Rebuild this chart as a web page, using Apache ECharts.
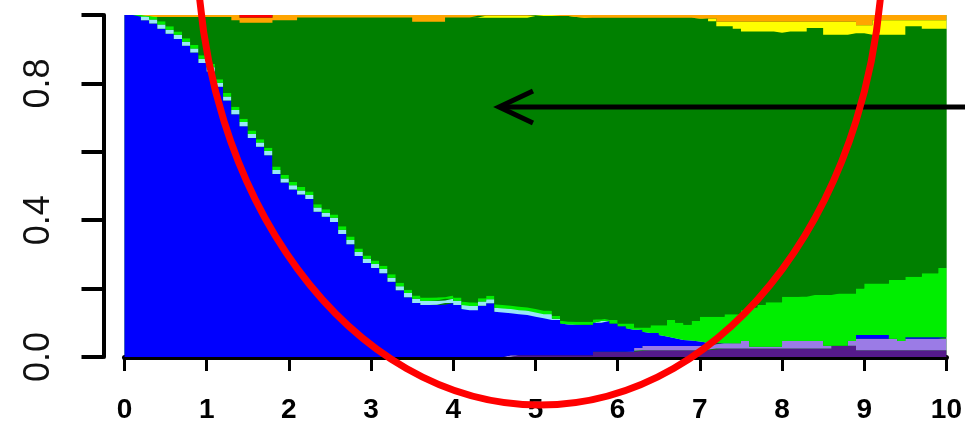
<!DOCTYPE html>
<html>
<head>
<meta charset="utf-8">
<script src="https://cdn.jsdelivr.net/npm/echarts@6/dist/echarts.min.js"></script>
<style>
html,body{margin:0;padding:0;background:#fff;}
#chart{width:965px;height:437px;}
</style>
</head>
<body>
<div id="chart"></div>
<script>
// x positions (time)
const xs = [0,0.1,0.2,0.3,0.4,0.5,0.6,0.7,0.8,0.9,1,1.1,1.2,1.3,1.4,1.5,1.6,1.7,1.8,1.9,2,2.1,2.2,2.3,2.4,2.5,2.6,2.7,2.8,2.9,3,3.1,3.2,3.3,3.4,3.5,3.6,3.7,3.8,3.9,4,4.1,4.2,4.3,4.4,4.5,4.6,4.7,4.8,4.9,5,5.1,5.2,5.3,5.4,5.5,5.6,5.7,5.8,5.9,6,6.1,6.2,6.3,6.4,6.5,6.6,6.7,6.8,6.9,7,7.1,7.2,7.3,7.4,7.5,7.6,7.7,7.8,7.9,8,8.1,8.2,8.3,8.4,8.5,8.6,8.7,8.8,8.9,9,9.1,9.2,9.3,9.4,9.5,9.6,9.7,9.8,9.9,10];

// layer proportions, bottom to top
const darkPurple = [0,0,0,0,0,0,0,0,0,0, 0,0,0,0,0,0,0,0,0,0, 0,0,0,0,0,0,0,0,0,0, 0,0,0,0,0,0,0,0,0,0, 0,0,0,0,0,0,0,0.005,0.005,0.005, 0.005,0.005,0.005,0.005,0.005,0.005,0.005,0.015,0.015,0.015, 0.015,0.015,0.018,0.02,0.02,0.02,0.02,0.02,0.02,0.02, 0.02,0.022,0.025,0.025,0.025,0.025,0.025,0.025,0.025,0.025, 0.025,0.025,0.025,0.025,0.025,0.025,0.033,0.033,0.033,0.02, 0.02,0.02,0.02,0.02,0.02,0.02,0.02,0.02,0.02,0.02, 0.02];
const lavender = [0,0,0,0,0,0,0,0,0,0, 0,0,0,0,0,0,0,0,0,0, 0,0,0,0,0,0,0,0,0,0, 0,0,0,0,0,0,0,0,0,0, 0,0,0,0,0,0,0,0,0,0, 0,0,0,0,0,0,0,0,0,0, 0,0,0.008,0.012,0.012,0.012,0.012,0.012,0.012,0.012, 0.012,0.015,0.015,0.015,0.015,0.022,0.005,0.005,0.005,0.005, 0.022,0.022,0.022,0.022,0.022,0.008,0,0,0.014,0.033, 0.033,0.033,0.033,0.033,0.027,0.033,0.033,0.033,0.033,0.033, 0.033];
const blue = [1,1,0.985,0.975,0.96,0.945,0.93,0.91,0.89,0.86, 0.835,0.79,0.75,0.71,0.675,0.64,0.615,0.59,0.535,0.51, 0.49,0.475,0.462,0.425,0.41,0.395,0.36,0.33,0.295,0.275, 0.26,0.245,0.22,0.195,0.175,0.158,0.152,0.152,0.153,0.158, 0.152,0.14,0.137,0.15,0.157,0.132,0.13,0.123,0.12,0.118, 0.113,0.108,0.103,0.093,0.09,0.089,0.089,0.085,0.09,0.083, 0.075,0.069,0.054,0.042,0.038,0.032,0.028,0.023,0.018,0.016, 0.013,0.005,0.002,0,0,0,0,0,0,0, 0,0,0,0,0,0,0,0,0,0.011, 0.011,0.011,0.011,0,0,0.005,0.005,0.005,0.005,0.005, 0.005];
const lightBlue = [0,0,0.01,0.012,0.012,0.012,0.012,0.012,0.012,0.012, 0.012,0.012,0.012,0.012,0.012,0.012,0.012,0.012,0.012,0.012, 0.012,0.012,0.012,0.012,0.012,0.012,0.012,0.012,0.012,0.012, 0.012,0.012,0.012,0.012,0.012,0.012,0.012,0.012,0.012,0.012, 0.012,0.012,0.012,0.012,0.012,0.012,0.012,0.012,0.012,0.012, 0.012,0.012,0.004,0,0,0,0,0,0,0, 0,0,0,0,0,0,0,0,0,0, 0,0,0,0,0,0,0,0,0,0, 0,0,0,0,0,0,0,0,0,0, 0,0,0,0,0,0,0,0,0,0, 0];
const lime = [0,0,0.005,0.01,0.01,0.01,0.01,0.01,0.01,0.01, 0.01,0.01,0.01,0.01,0.01,0.01,0.01,0.01,0.01,0.01, 0.01,0.01,0.01,0.01,0.01,0.01,0.01,0.01,0.01,0.01, 0.01,0.01,0.01,0.01,0.01,0.01,0.01,0.01,0.01,0.01, 0.01,0.01,0.01,0.01,0.01,0.01,0.01,0.01,0.01,0.01, 0.01,0.01,0.008,0.008,0.008,0.009,0.009,0.01,0.008,0.01, 0.008,0.014,0.006,0.012,0.023,0.029,0.048,0.045,0.044,0.057, 0.073,0.076,0.076,0.085,0.085,0.09,0.115,0.122,0.13,0.13, 0.129,0.129,0.129,0.134,0.134,0.148,0.153,0.153,0.139,0.136, 0.151,0.151,0.151,0.172,0.178,0.177,0.177,0.187,0.187,0.202, 0.202];
const darkGreen = [0,0,0,0,0.012,0.027,0.042,0.062,0.082,0.112, 0.137,0.182,0.222,0.253,0.28,0.315,0.34,0.365,0.428,0.453, 0.473,0.496,0.509,0.546,0.561,0.576,0.611,0.641,0.676,0.696, 0.711,0.726,0.751,0.776,0.796,0.8,0.806,0.806,0.805,0.813, 0.819,0.831,0.834,0.82,0.813,0.838,0.84,0.842,0.845,0.847, 0.857,0.862,0.877,0.891,0.894,0.891,0.889,0.882,0.879,0.884, 0.894,0.894,0.906,0.906,0.899,0.899,0.884,0.892,0.898,0.887, 0.872,0.864,0.849,0.842,0.835,0.815,0.807,0.8,0.792,0.792, 0.772,0.776,0.776,0.781,0.781,0.761,0.756,0.756,0.756,0.747, 0.732,0.727,0.727,0.717,0.717,0.732,0.732,0.715,0.715,0.7, 0.7];
const yellow = [0,0,0,0,0,0,0,0,0,0, 0,0,0,0,0,0,0,0,0,0, 0,0,0,0,0,0,0,0,0,0, 0,0,0,0,0,0,0,0,0,0, 0,0,0,0.006,0.006,0.006,0.006,0.006,0.006,0.006, 0.003,0.003,0.003,0,0,0,0,0,0,0, 0,0,0,0,0,0,0,0,0,0, 0,0.008,0.013,0.013,0.02,0.028,0.028,0.028,0.028,0.028, 0.032,0.028,0.028,0.018,0.018,0.038,0.038,0.038,0.038,0.023, 0.023,0.043,0.043,0.043,0.043,0.018,0.018,0.025,0.025,0.025, 0.025];
const orange = [0,0,0,0.003,0.006,0.006,0.006,0.006,0.006,0.006, 0.006,0.006,0.006,0.015,0.015,0.015,0.015,0.015,0.015,0.015, 0.015,0.007,0.007,0.007,0.007,0.007,0.007,0.007,0.007,0.007, 0.007,0.007,0.007,0.007,0.007,0.02,0.02,0.02,0.02,0.007, 0.007,0.007,0.007,0.002,0.002,0.002,0.002,0.002,0.002,0.002, 0,0,0,0.003,0.003,0.006,0.008,0.008,0.008,0.008, 0.008,0.008,0.008,0.008,0.008,0.008,0.008,0.008,0.008,0.008, 0.01,0.01,0.02,0.02,0.02,0.02,0.02,0.02,0.02,0.02, 0.02,0.02,0.02,0.02,0.02,0.02,0.02,0.02,0.02,0.03, 0.03,0.015,0.015,0.015,0.015,0.015,0.015,0.015,0.015,0.015, 0.015];
const red = [0,0,0,0,0,0,0,0,0,0, 0,0,0,0,0.008,0.008,0.008,0.008,0,0, 0,0,0,0,0,0,0,0,0,0, 0,0,0,0,0,0,0,0,0,0, 0,0,0,0,0,0,0,0,0,0, 0,0,0,0,0,0,0,0,0,0, 0,0,0,0,0,0,0,0,0,0, 0,0,0,0,0,0,0,0,0,0, 0,0,0,0,0,0,0,0,0,0, 0,0,0,0,0,0,0,0,0,0, 0];

const xTickLabels = ['0','1','2','3','4','5','6','7','8','9','10'];
const yTickLabels = ['0.0','','0.4','','0.8',''];

const layers = [
  {name:'darkPurple', data:darkPurple, color:'#551A8B'},
  {name:'lavender', data:lavender, color:'#9B7BE6'},
  {name:'blue', data:blue, color:'#0000FF'},
  {name:'lightBlue', data:lightBlue, color:'#98E6F8'},
  {name:'lime', data:lime, color:'#00EE00'},
  {name:'darkGreen', data:darkGreen, color:'#008000'},
  {name:'yellow', data:yellow, color:'#FFFF00'},
  {name:'orange', data:orange, color:'#FFA500'},
  {name:'red', data:red, color:'#FF0000'}
];

const series = layers.map(l => ({
  name: l.name,
  type: 'line',
  stack: 'all',
  step: 'end',
  symbol: 'none',
  showSymbol: false,
  silent: true,
  lineStyle: {width: 0, color: l.color, opacity: 0},
  areaStyle: {color: l.color, opacity: 1},
  data: l.data
}));

const isTick = (i) => Math.abs(xs[i] - Math.round(xs[i])) < 1e-9;

const chart = echarts.init(document.getElementById('chart'), null, {renderer: 'canvas'});
chart.setOption({
  animation: false,
  backgroundColor: '#ffffff',
  grid: {left: 124.5, right: 12, top: 15, bottom: 80, show: true, backgroundColor: '#008000', borderWidth: 0},
  xAxis: {
    type: 'category', data: xs, boundaryGap: false, offset: 15,
    axisLine: {show: true, lineStyle: {color: '#000', width: 5}},
    axisTick: {show: true, length: 14, interval: (i) => isTick(i), lineStyle: {color: '#000', width: 3}},
    axisLabel: {
      margin: 24, color: '#000', fontSize: 28, fontWeight: 'bold',
      fontFamily: 'Liberation Sans, Arial, sans-serif',
      interval: (i) => isTick(i),
      formatter: (v, i) => xTickLabels[Math.round(xs[i])]
    },
    splitLine: {show: false}
  },
  yAxis: {
    type: 'value', min: 0, max: 1, interval: 0.2, offset: 21,
    axisLine: {show: true, lineStyle: {color: '#000', width: 4}},
    axisTick: {show: true, length: 22, lineStyle: {color: '#000', width: 4}},
    axisLabel: {
      rotate: 90, margin: 46, color: '#111', fontSize: 36,
      fontFamily: 'Liberation Sans, Arial, sans-serif',
      formatter: (v, i) => yTickLabels[i] !== undefined ? yTickLabels[i] : ''
    },
    splitLine: {show: false}
  },
  series: series,
  graphic: [
    {type: 'line', z: 100, shape: {x1: 965, y1: 107, x2: 500, y2: 107}, style: {stroke: '#000', lineWidth: 5}},
    {type: 'polyline', z: 100, shape: {points: [[533, 91], [499, 107], [533, 123]]}, style: {stroke: '#000', lineWidth: 5, fill: null}},
    {type: 'ellipse', z: 110, shape: {cx: 540, cy: -60, rx: 343, ry: 465}, style: {stroke: '#FF0000', lineWidth: 7, fill: null}}
  ]
});
</script>
</body>
</html>
